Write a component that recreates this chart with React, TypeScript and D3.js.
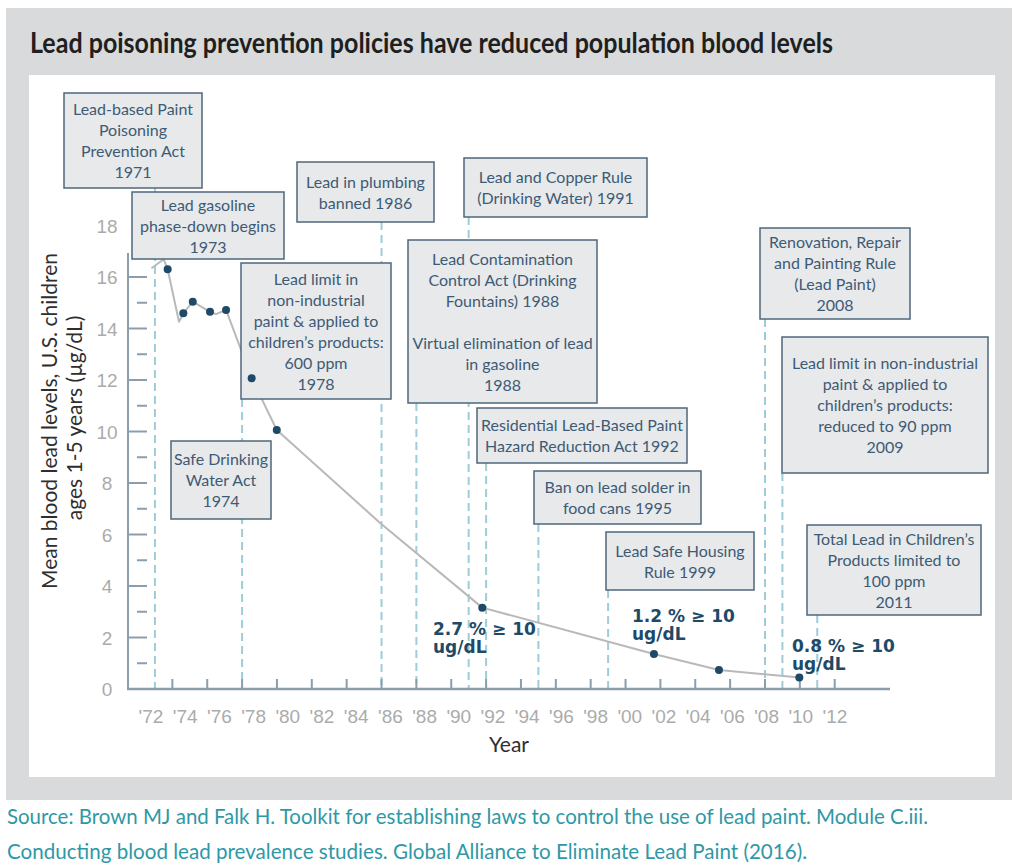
import React from 'react';
import * as d3 from 'd3';

// ---------- DATA ----------
const lineYears = [1972.8, 1973.5, 1973.73, 1974.38, 1974.63, 1975.17, 1976.16, 1976.5, 1977.08, 1978.55, 1979.99, 1985.9, 1991.78, 2001.63, 2005.36, 2009.97];
const lineValues = [16.34, 16.69, 16.3, 14.26, 14.59, 15.04, 14.65, 14.56, 14.72, 12.07, 10.06, 6.46, 3.16, 1.36, 0.74, 0.45];

const dotYears = [1973.73, 1974.63, 1975.17, 1976.16, 1977.08, 1978.55, 1979.99, 1991.78, 2001.63, 2005.36, 2009.97];
const dotValues = [16.3, 14.59, 15.04, 14.65, 14.72, 12.07, 10.06, 3.16, 1.36, 0.74, 0.45];

const policyYears = [1973, 1978, 1986, 1988, 1991, 1992, 1995, 1999, 2008, 2009, 2011];

const xTickYears = [1974, 1976, 1978, 1980, 1982, 1984, 1986, 1988, 1990, 1992, 1994, 1996, 1998, 2000, 2002, 2004, 2006, 2008, 2010, 2012];
const xLabelYears = [1972, 1974, 1976, 1978, 1980, 1982, 1984, 1986, 1988, 1990, 1992, 1994, 1996, 1998, 2000, 2002, 2004, 2006, 2008, 2010, 2012];
const xLabelTexts = ["'72", "'74", "'76", "'78", "'80", "'82", "'84", "'86", "'88", "'90", "'92", "'94", "'96", "'98", "'00", "'02", "'04", "'06", "'08", "'10", "'12"];
const yLabelValues = [0, 2, 4, 6, 8, 10, 12, 14, 16, 18];
const yMajorTicks = [2, 4, 6, 8, 10, 12, 14, 16];
const yMinorTicks = [1, 3, 5, 7, 9, 11, 13, 15];

const policyTexts = [
  ["Lead-based Paint", "Poisoning", "Prevention Act", "1971"],
  ["Lead gasoline", "phase-down begins", "1973"],
  ["Lead in plumbing", "banned 1986"],
  ["Lead limit in", "non-industrial", "paint & applied to", "children\u2019s products:", "600 ppm", "1978"],
  ["Safe Drinking", "Water Act", "1974"],
  ["Lead and Copper Rule", "(Drinking Water) 1991"],
  ["Lead Contamination", "Control Act (Drinking", "Fountains) 1988", "", "Virtual elimination of lead", "in gasoline", "1988"],
  ["Residential Lead-Based Paint", "Hazard Reduction Act 1992"],
  ["Renovation, Repair", "and Painting Rule", "(Lead Paint)", "2008"],
  ["Lead limit in non-industrial", "paint & applied to", "children\u2019s products:", "reduced to 90 ppm", "2009"],
  ["Ban on lead solder in", "food cans 1995"],
  ["Lead Safe Housing", "Rule 1999"],
  ["Total Lead in Children\u2019s", "Products limited to", "100 ppm", "2011"],
];

const prevalenceLine1 = ["2.7 % \u2265 10", "1.2 % \u2265 10", "0.8 % \u2265 10"];
const prevalenceLine2 = ["ug/dL", "ug/dL", "ug/dL"];

const titleText = "Lead poisoning prevention policies have reduced population blood levels";
const yTitle1 = "Mean blood lead levels, U.S. children";
const yTitle2 = "ages 1-5 years (\u00b5g/dL)";
const xTitle = "Year";
const source1 = "Source: Brown MJ and Falk H. Toolkit for establishing laws to control the use of lead paint. Module C.iii.";
const source2 = "Conducting blood lead prevalence studies. Global Alliance to Eliminate Lead Paint (2016).";

// ---------- LAYOUT (pixels) ----------
const boxLayout = [
  { x: 64, y: 93, w: 138, h: 95 },
  { x: 132, y: 192, w: 152, h: 67 },
  { x: 297, y: 162, w: 137, h: 60 },
  { x: 241, y: 263, w: 150, h: 136 },
  { x: 171, y: 441, w: 100, h: 78 },
  { x: 464, y: 158, w: 183, h: 59 },
  { x: 408, y: 240, w: 189, h: 163 },
  { x: 477, y: 408, w: 210, h: 55 },
  { x: 760, y: 228, w: 150, h: 91 },
  { x: 782, y: 337, w: 206, h: 136 },
  { x: 534, y: 471, w: 167, h: 53 },
  { x: 606, y: 532, w: 148, h: 58 },
  { x: 807, y: 525, w: 174, h: 90 },
];
const dashTops = [188, 399, 222, 403, 217, 463, 524, 590, 319, 473, 615];
const prevalenceLayout = [
  { x: 433, y: 635 },
  { x: 632, y: 622 },
  { x: 792, y: 652 },
];

const FONT = "Lato, 'Open Sans', sans-serif";
const SANS = "'Liberation Sans', Arial, sans-serif";
const BOLD = "'DejaVu Sans', 'Liberation Sans', sans-serif";

export default function App() {
  const x = d3.scaleLinear().domain([1972, 2012]).range([137.5, 834.7]);
  const xLabel = d3.scaleLinear().domain([1972, 2012]).range([151, 835]);
  const y = d3.scaleLinear().domain([0, 18]).range([689, 225.5]);

  const linePath = d3
    .line<number>()
    .x((_, i) => x(lineYears[i]))
    .y((d) => y(d))(lineValues) as string;

  const axisColor = '#8c9dac';
  const boxFill = '#e8e9eb';
  const boxStroke = '#4f677c';
  const boxText = '#3d5b75';
  const dashColor = '#9dcdd8';
  const navy = '#1e4a68';
  const lh = 21;
  const fs = 16;

  const axisX = 128;

  return (
    <svg width={1024} height={866} style={{ position: 'absolute', left: 0, top: 0 }} xmlns="http://www.w3.org/2000/svg">
      <rect x={0} y={0} width={1024} height={866} fill="#ffffff" />
      <rect x={6} y={8} width={1006} height={792} fill="#d9dadc" />
      <rect x={29} y={75} width={966} height={702} fill="#ffffff" />

      <text x={30} y={53} fontFamily={FONT} fontWeight={700} fontSize={28} fill="#1f1f1f" textLength={803} lengthAdjust="spacingAndGlyphs">
        {titleText}
      </text>

      {/* dashed policy lines */}
      {policyYears.map((yr, i) => (
        <line key={'d' + i} x1={x(yr)} x2={x(yr)} y1={dashTops[i]} y2={y(0)} stroke={dashColor} strokeWidth={2} strokeDasharray="8 5" />
      ))}

      {/* y axis */}
      <line x1={axisX} x2={axisX} y1={y(0)} y2={y(16.93)} stroke={axisColor} strokeWidth={2} />
      {yMajorTicks.map((v) => (
        <line key={'ym' + v} x1={axisX} x2={axisX + 19} y1={y(v)} y2={y(v)} stroke={axisColor} strokeWidth={2} />
      ))}
      {yMinorTicks.map((v) => (
        <line key={'yn' + v} x1={axisX + 9} x2={axisX + 19} y1={y(v)} y2={y(v)} stroke={axisColor} strokeWidth={2} />
      ))}
      {yLabelValues.map((v) => (
        <text key={'yl' + v} x={107} y={y(v) + 7} textAnchor="middle" fontFamily={SANS} fontSize={19} fill="#ababab">
          {v}
        </text>
      ))}

      {/* x axis */}
      {xTickYears.map((yr) => (
        <line key={'xt' + yr} x1={x(yr)} x2={x(yr)} y1={y(0)} y2={y(0) - 10} stroke={axisColor} strokeWidth={2} />
      ))}
      <line x1={axisX - 1} x2={890} y1={y(0)} y2={y(0)} stroke={axisColor} strokeWidth={2.5} />
      {xLabelYears.map((yr, i) => (
        <text key={'xl' + yr} x={xLabel(yr)} y={723} textAnchor="middle" fontFamily={SANS} fontSize={19} fill="#ababab">
          {xLabelTexts[i]}
        </text>
      ))}

      {/* axis titles */}
      <text x={509} y={752} textAnchor="middle" fontFamily={FONT} fontSize={21} fill="#2e2e2e">
        {xTitle}
      </text>
      <text transform="translate(57,421) rotate(-90)" textAnchor="middle" fontFamily={FONT} fontSize={21} fill="#2e2e2e">
        {yTitle1}
      </text>
      <text transform="translate(82,418) rotate(-90)" textAnchor="middle" fontFamily={FONT} fontSize={21} fill="#2e2e2e">
        {yTitle2}
      </text>

      {/* data line */}
      <path d={linePath} fill="none" stroke="#b9b9b9" strokeWidth={2} strokeLinejoin="round" />

      {/* policy boxes */}
      {policyTexts.map((lines, i) => {
        const b = boxLayout[i];
        const cy = b.y + b.h / 2;
        const first = cy - ((lines.length - 1) * lh) / 2;
        return (
          <g key={'b' + i}>
            <rect x={b.x} y={b.y} width={b.w} height={b.h} fill={boxFill} stroke={boxStroke} strokeWidth={1.5} />
            {lines.map((t, j) => (
              <text key={j} x={b.x + b.w / 2} y={first + j * lh + fs * 0.38} textAnchor="middle" fontFamily={FONT} fontSize={fs} fill={boxText}>
                {t}
              </text>
            ))}
          </g>
        );
      })}

      {/* dots */}
      {dotYears.map((yr, i) => (
        <circle key={'c' + i} cx={x(yr)} cy={y(dotValues[i])} r={4} fill={navy} />
      ))}

      {/* prevalence labels */}
      {prevalenceLayout.map((p, i) => (
        <g key={'p' + i}>
          <text x={p.x} y={p.y} fontFamily={BOLD} fontWeight={700} fontSize={17} fill={navy}>
            {prevalenceLine1[i]}
          </text>
          <text x={p.x} y={p.y + 18} fontFamily={BOLD} fontWeight={700} fontSize={17} fill={navy}>
            {prevalenceLine2[i]}
          </text>
        </g>
      ))}

      {/* source */}
      <text x={7} y={824} fontFamily={FONT} fontSize={21} fill="#2f98a6" textLength={921} lengthAdjust="spacingAndGlyphs">
        {source1}
      </text>
      <text x={7} y={859} fontFamily={FONT} fontSize={21} fill="#2f98a6" textLength={800} lengthAdjust="spacingAndGlyphs">
        {source2}
      </text>
    </svg>
  );
}
